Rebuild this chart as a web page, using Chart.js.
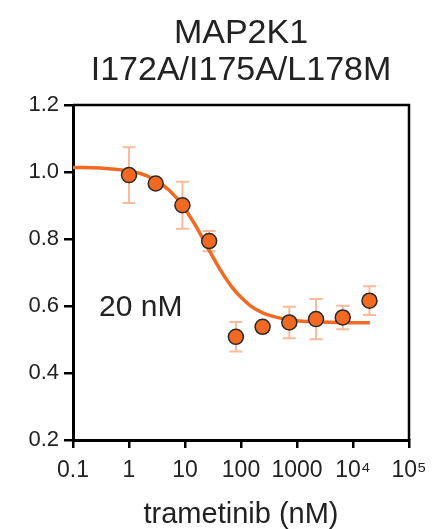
<!DOCTYPE html>
<html>
<head>
<meta charset="utf-8">
<script src="https://cdn.jsdelivr.net/npm/chart.js@4"></script>
<style>
  body { margin: 0; background: #fff; }
</style>
</head>
<body>
<canvas id="myChart" width="448" height="529"></canvas>
<script>
// measured points (trametinib nM, normalised response, SD)
const conc = [1, 3, 9, 27, 81, 243, 729, 2187, 6561, 19683];
const resp = [0.991, 0.966, 0.901, 0.794, 0.508, 0.538, 0.551, 0.561, 0.566, 0.616];
const sd = [0.083, 0.015, 0.07, 0.03, 0.044, 0.015, 0.047, 0.06, 0.035, 0.043];

// fitted curve
const fitX = [0.1, 0.3, 1, 2, 4, 7, 10, 15, 20, 30, 45, 70, 100, 150, 250, 500, 1000, 2000, 5000, 20000];
const fitY = [1.014, 1.012, 1.003, 0.990, 0.962, 0.924, 0.890, 0.844, 0.807, 0.753, 0.702, 0.655, 0.626, 0.600, 0.579, 0.564, 0.556, 0.553, 0.551, 0.550];

const xTicks = [0.1, 1, 10, 100, 1000, 1e4, 1e5];
const xTickLabels = ['0.1', '1', '10', '100', '1000', '10\u2074', '10\u2075'];
const yTicks = [0.2, 0.4, 0.6, 0.8, 1.0, 1.2];

const orange = '#F26A22';
const errColor = '#F9BB9B';
const font = "'Liberation Sans', Arial, sans-serif";

const errorBars = {
  id: 'errorBars',
  beforeDatasetsDraw(chart) {
    const ctx = chart.ctx;
    const xs = chart.scales.x, ys = chart.scales.y;
    ctx.save();
    ctx.strokeStyle = errColor;
    ctx.lineWidth = 2;
    for (let i = 0; i < conc.length; i++) {
      const px = xs.getPixelForValue(conc[i]);
      const top = ys.getPixelForValue(resp[i] + sd[i]);
      const bot = ys.getPixelForValue(resp[i] - sd[i]);
      ctx.beginPath();
      ctx.moveTo(px, top); ctx.lineTo(px, bot);
      ctx.moveTo(px - 6.5, top); ctx.lineTo(px + 6.5, top);
      ctx.moveTo(px - 6.5, bot); ctx.lineTo(px + 6.5, bot);
      ctx.stroke();
    }
    ctx.restore();
  }
};

const frame = {
  id: 'frame',
  afterDraw(chart) {
    const a = chart.chartArea;
    const ctx = chart.ctx;
    ctx.save();
    ctx.strokeStyle = '#000';
    ctx.lineWidth = 2.5;
    ctx.beginPath();
    ctx.moveTo(a.left, a.top); ctx.lineTo(a.right, a.top); ctx.lineTo(a.right, a.bottom);
    ctx.stroke();
    ctx.fillStyle = '#222';
    ctx.font = '30px ' + font;
    ctx.textBaseline = 'middle';
    ctx.fillText('20 nM', 99, 308);
    ctx.restore();
  }
};

new Chart(document.getElementById('myChart'), {
  type: 'scatter',
  data: {
    datasets: [{
      type: 'line',
      data: fitX.map((x, i) => ({ x: x, y: fitY[i] })),
      borderColor: orange,
      borderWidth: 3.5,
      pointRadius: 0,
      tension: 0.4,
      cubicInterpolationMode: 'monotone',
      order: 2
    }, {
      data: conc.map((x, i) => ({ x: x, y: resp[i] })),
      backgroundColor: orange,
      borderColor: '#2a2a2a',
      borderWidth: 1.5,
      pointRadius: 7.5,
      order: 1
    }]
  },
  options: {
    responsive: false,
    animation: false,
    layout: { padding: { left: 0, right: 39, top: 0, bottom: 0 } },
    plugins: {
      legend: { display: false },
      tooltip: { enabled: false },
      title: {
        display: true,
        fullSize: false,
        text: ['MAP2K1', 'I172A/I175A/L178M'],
        color: '#222',
        font: { family: font, size: 34, weight: 'normal', lineHeight: 1.09 },
        padding: { top: 15, bottom: 16 }
      }
    },
    scales: {
      x: {
        type: 'logarithmic',
        min: 0.1,
        max: 1e5,
        afterBuildTicks: (s) => { s.ticks = xTicks.map(v => ({ value: v })); },
        afterFit: (s) => { s.height = 89; },
        ticks: {
          color: '#222',
          font: { family: font, size: 23 },
          maxRotation: 0,
          autoSkip: false,
          padding: 9,
          callback: (v, i) => xTickLabels[i]
        },
        grid: { drawOnChartArea: false, drawTicks: true, tickLength: 8, color: '#000', lineWidth: 2.5 },
        border: { color: '#000', width: 3 },
        title: {
          display: true,
          text: 'trametinib (nM)',
          color: '#222',
          font: { family: font, size: 29, lineHeight: 1.0 },
          padding: { top: 4, bottom: 0 }
        }
      },
      y: {
        min: 0.2,
        max: 1.2,
        afterBuildTicks: (s) => { s.ticks = yTicks.map(v => ({ value: v })); },
        afterFit: (s) => { s.width = 73; },
        ticks: {
          color: '#222',
          font: { family: font, size: 22 },
          padding: 5,
          callback: (v) => v.toFixed(1)
        },
        grid: { drawOnChartArea: false, drawTicks: true, tickLength: 9, color: '#000', lineWidth: 2.5 },
        border: { color: '#000', width: 3 }
      }
    }
  },
  plugins: [errorBars, frame]
});
</script>
</body>
</html>
